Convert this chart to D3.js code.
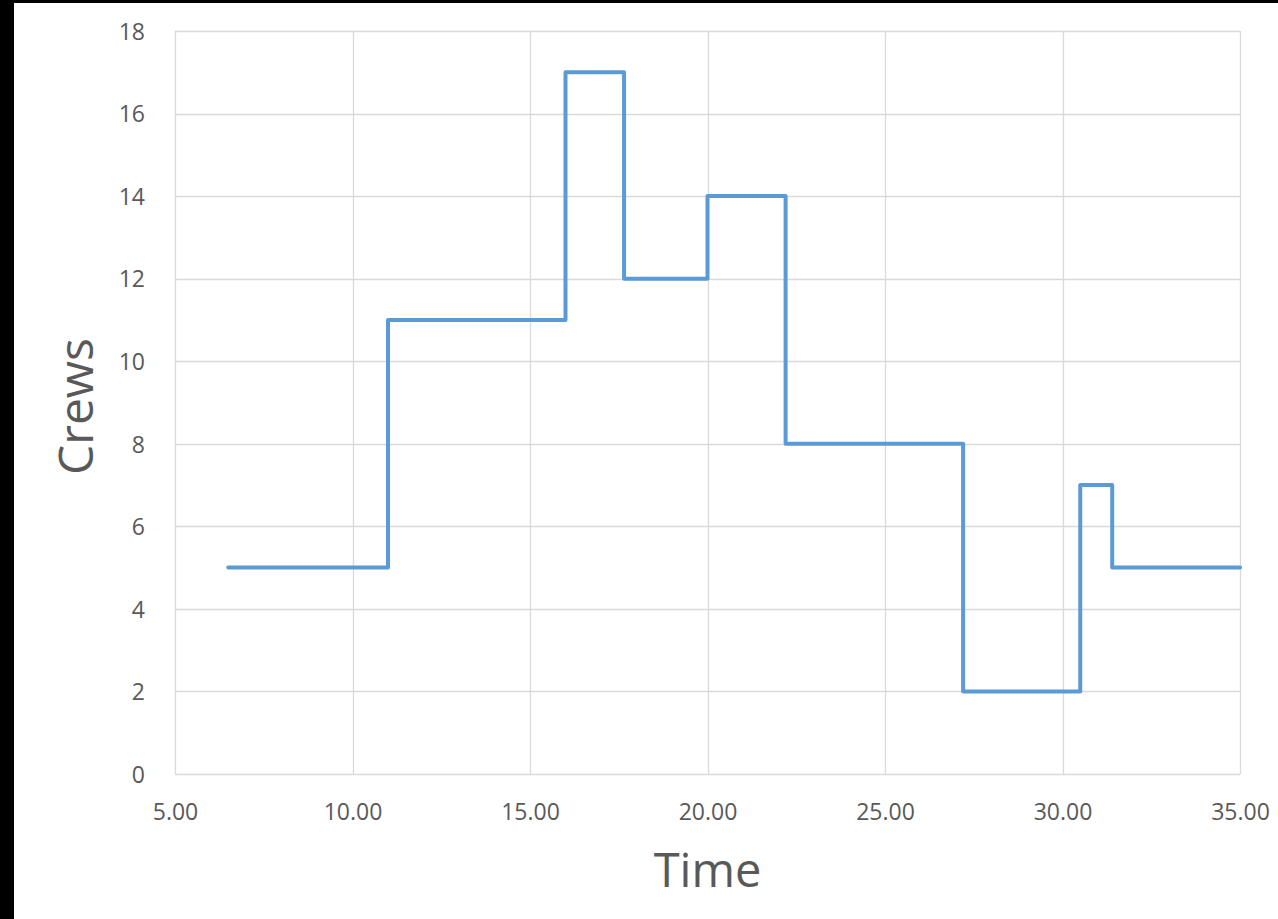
<!DOCTYPE html>
<html>
<head>
<meta charset="utf-8">
<script src="https://cdn.jsdelivr.net/npm/d3@7"></script>
<style>
  html, body { margin: 0; padding: 0; background: #000; }
  svg { display: block; }
</style>
</head>
<body>
<script>
// Crew count over time, drawn as a step series
const times = [6.5, 11.0, 16.0, 17.65, 20.0, 22.2, 27.2, 30.5, 31.4, 35.0];
const crews = [5, 11, 17, 12, 14, 8, 2, 7, 5, 5];
const xTicks = [5, 10, 15, 20, 25, 30, 35];
const yTicks = [0, 2, 4, 6, 8, 10, 12, 14, 16, 18];

const W = 1278, H = 919;
const svg = d3.select("body").append("svg").attr("width", W).attr("height", H);

// white page with black strip on left and top
svg.append("rect").attr("x", 0).attr("y", 0).attr("width", W).attr("height", H).attr("fill", "#000");
svg.append("rect").attr("x", 14).attr("y", 3).attr("width", W - 14).attr("height", H - 3).attr("fill", "#fff");

const plot = { left: 175, right: 1240, top: 31, bottom: 774 };
const x = d3.scaleLinear().domain([5, 35]).range([plot.left, plot.right]);
const y = d3.scaleLinear().domain([0, 18]).range([plot.bottom, plot.top]);

const font = "'Open Sans', 'Liberation Sans', sans-serif";
const gridColor = "#d9d9d9";
const textColor = "#595959";

// gridlines
svg.append("g").selectAll("line.h").data(yTicks).join("line")
  .attr("x1", plot.left).attr("x2", plot.right)
  .attr("y1", d => Math.round(y(d)) + 0.5).attr("y2", d => Math.round(y(d)) + 0.5)
  .attr("stroke", gridColor).attr("stroke-width", 1.3);
svg.append("g").selectAll("line.v").data(xTicks).join("line")
  .attr("y1", plot.top).attr("y2", plot.bottom)
  .attr("x1", d => Math.round(x(d)) + 0.5).attr("x2", d => Math.round(x(d)) + 0.5)
  .attr("stroke", gridColor).attr("stroke-width", 1.3);

// y axis labels
const yAxis = d3.axisLeft(y).tickValues(yTicks).tickSize(0).tickPadding(30).tickFormat(d3.format("d"));
const gy = svg.append("g").attr("transform", `translate(${plot.left},0)`).call(yAxis);
gy.select(".domain").remove();
gy.selectAll("text").attr("font-family", font).attr("font-size", 23).attr("fill", textColor)
  .attr("dy", "0.36em");

// x axis labels
const xAxis = d3.axisBottom(x).tickValues(xTicks).tickSize(0).tickFormat(d3.format(".2f"));
const gx = svg.append("g").attr("transform", `translate(0,${plot.bottom})`).call(xAxis);
gx.select(".domain").remove();
gx.selectAll("text").attr("font-family", font).attr("font-size", 23).attr("fill", textColor)
  .attr("y", 46).attr("dy", 0);

// step line
const line = d3.line().x(d => x(d[0])).y(d => y(d[1])).curve(d3.curveStepAfter);
svg.append("path")
  .datum(times.map((t, i) => [t, crews[i]]))
  .attr("d", line)
  .attr("fill", "none")
  .attr("stroke", "#5b9bd5")
  .attr("stroke-width", 4)
  .attr("stroke-linejoin", "round")
  .attr("stroke-linecap", "round");

// axis titles
svg.append("text").attr("x", x(20)).attr("y", 887)
  .attr("text-anchor", "middle").attr("font-family", font).attr("font-size", 47)
  .attr("fill", textColor).text("Time");
svg.append("text").attr("transform", `translate(93,${(plot.top + plot.bottom) / 2 + 4}) rotate(-90)`)
  .attr("text-anchor", "middle").attr("font-family", font).attr("font-size", 48)
  .attr("fill", textColor).text("Crews");
</script>
</body>
</html>
